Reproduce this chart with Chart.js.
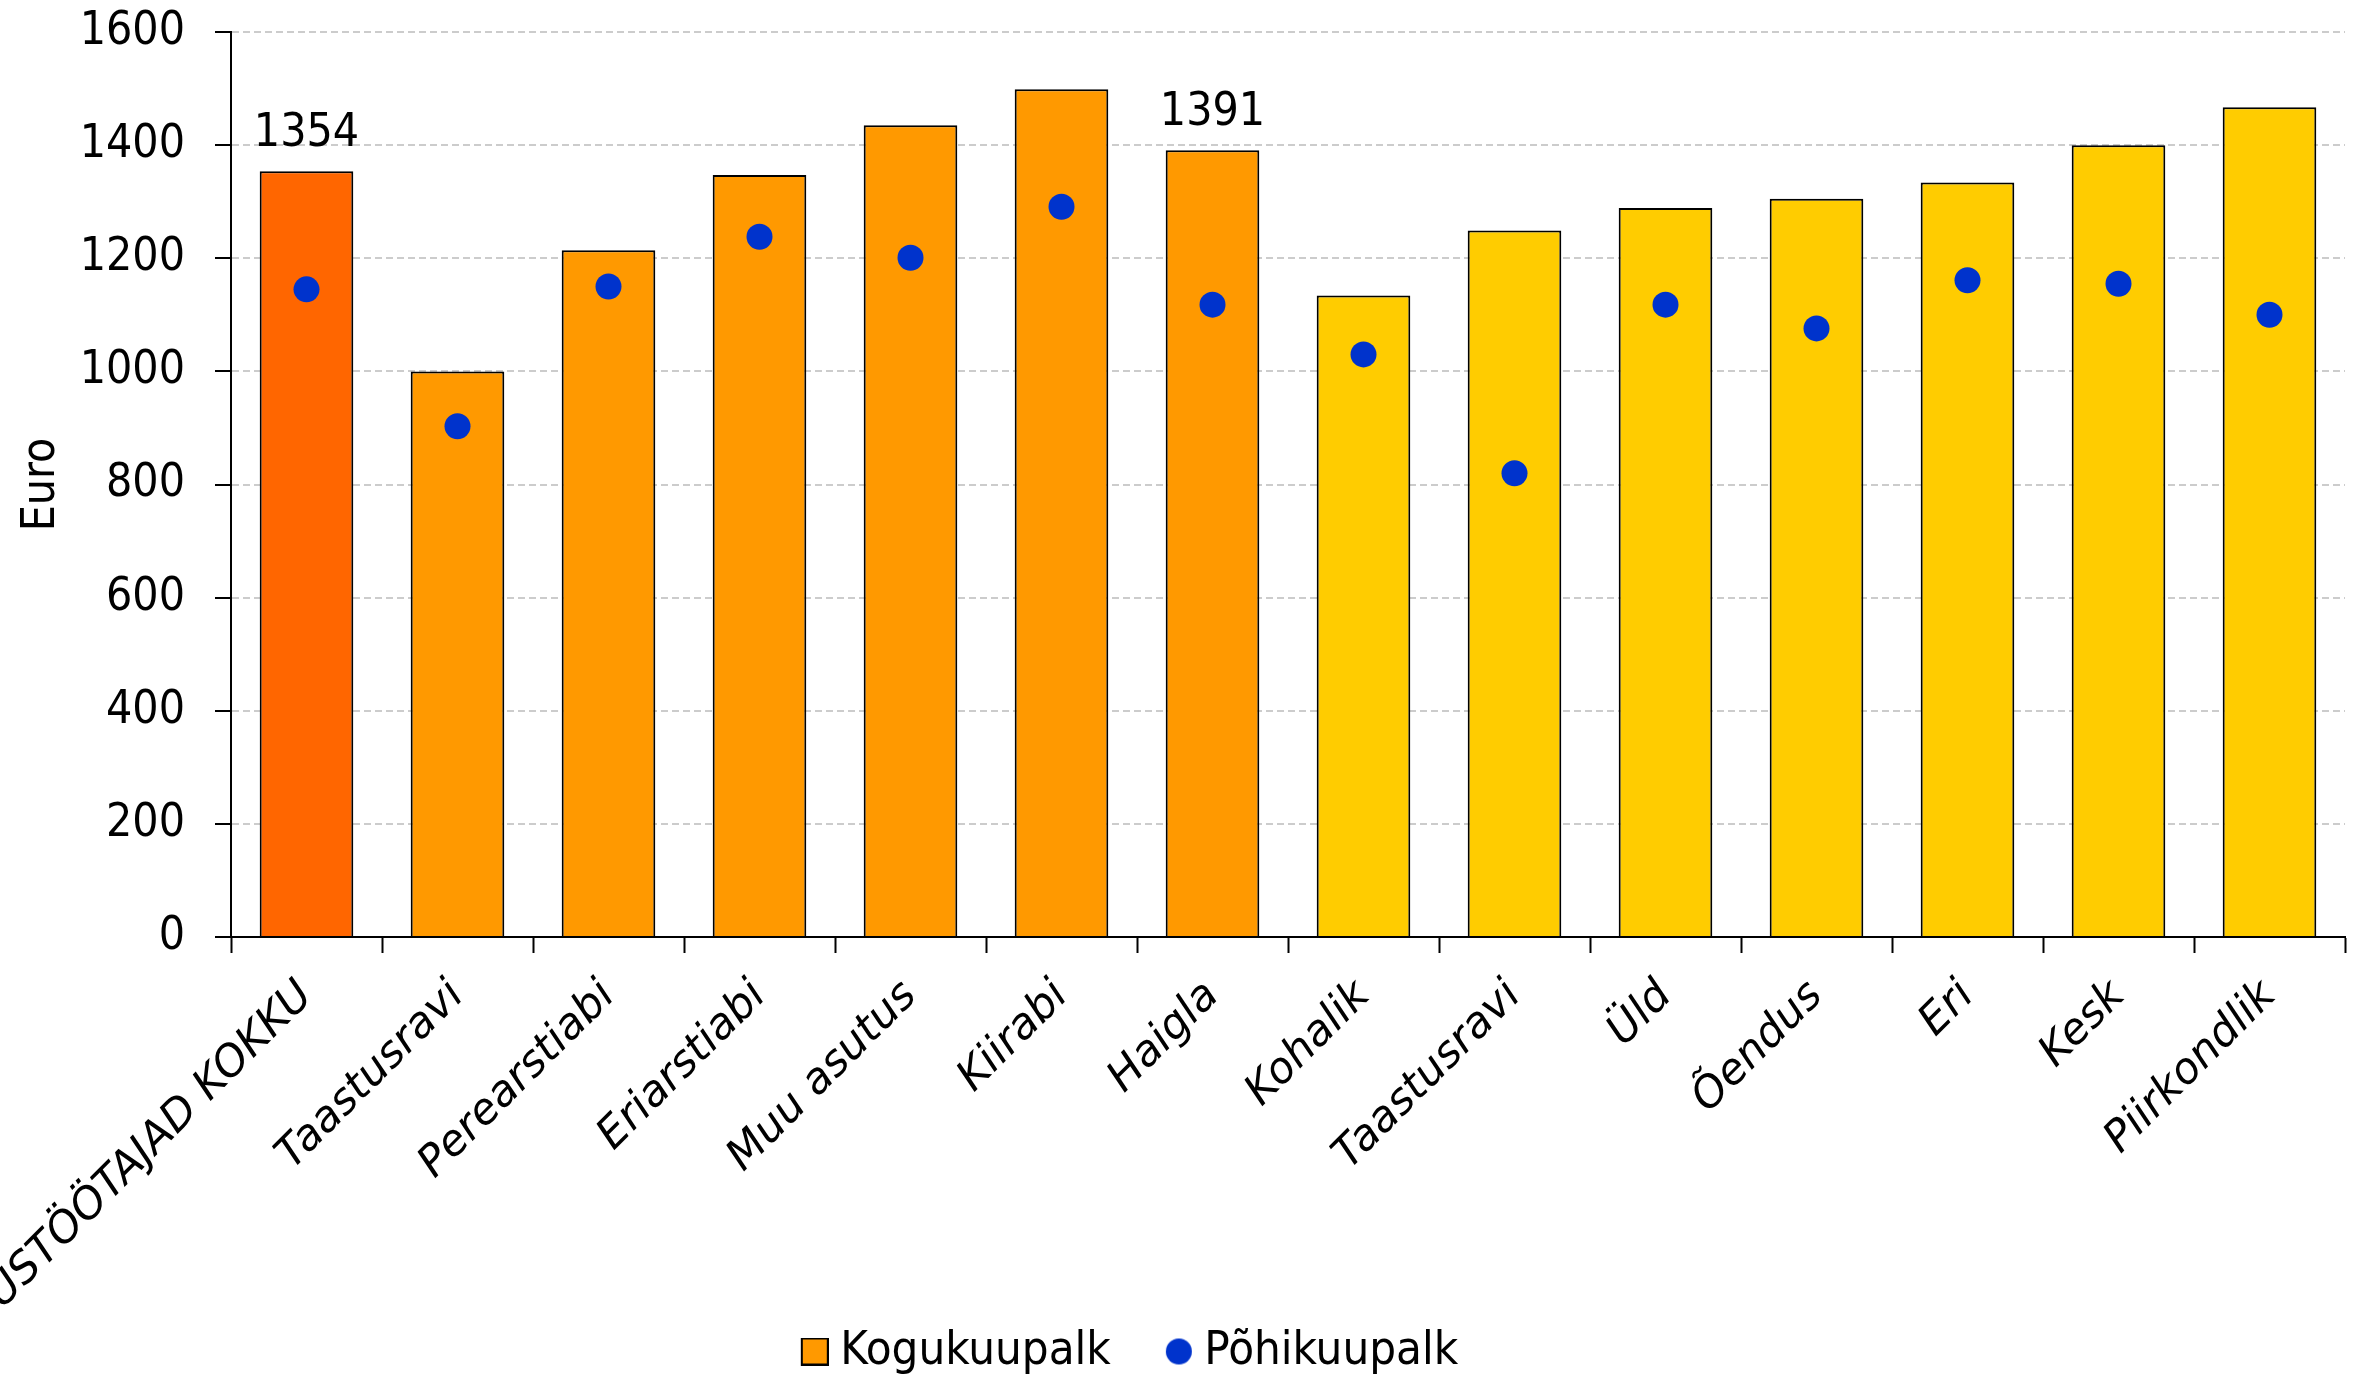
<!DOCTYPE html>
<html lang="et">
<head>
  <meta charset="UTF-8" />
  <title>Kogukuupalk ja põhikuupalk</title>
  <script src="https://cdn.jsdelivr.net/npm/chart.js"></script>
  <style>
    html, body { margin: 0; padding: 0; background: #fff; }
    #wrap { width: 2358px; height: 1380px; }
  </style>
</head>
<body>
  <div id="wrap"><canvas id="palkChart"></canvas></div>

  <script>
    // andmed
    const categories = ['HOOLDUSTÖÖTAJAD KOKKU', 'Taastusravi', 'Perearstiabi', 'Eriarstiabi', 'Muu asutus', 'Kiirabi', 'Haigla',
                        'Kohalik', 'Taastusravi', 'Üld', 'Õendus', 'Eri', 'Kesk', 'Piirkondlik'];
    const kogukuupalk = [1354, 1000, 1214, 1347, 1435, 1499, 1391, 1134, 1249, 1289, 1305, 1334, 1400, 1467];
    const pohikuupalk = [1145, 903, 1150, 1238, 1201, 1291, 1118, 1030, 820, 1118, 1076, 1161, 1155, 1100];
    const barGroup = ['kokku', 'asutus', 'asutus', 'asutus', 'asutus', 'asutus', 'asutus',
                      'haigla', 'haigla', 'haigla', 'haigla', 'haigla', 'haigla', 'haigla'];
    const labelledBars = [0, 6];
    const seriesNames = ['Kogukuupalk', 'Põhikuupalk'];

    const groupColors = { kokku: '#FF6600', asutus: '#FF9900', haigla: '#FFCC00' };
    const dotColor = '#0033CC';
    const numFont = "'DejaVu Sans Condensed', 'Liberation Sans Narrow', 'Roboto', sans-serif";
    const catFont = "'DejaVu Sans', sans-serif";

    // legendi sümbolid (läbipaistev vasak osa nihutab sümboli teksti lähedale)
    function swatch(kind) {
      const c = document.createElement('canvas');
      c.width = 84; c.height = 28;
      const g = c.getContext('2d');
      if (kind === 'rect') {
        g.fillStyle = groupColors.asutus;
        g.fillRect(57, 1, 26, 26);
        g.strokeStyle = '#000';
        g.lineWidth = 2;
        g.strokeRect(57, 1, 26, 26);
      } else {
        g.fillStyle = dotColor;
        g.beginPath();
        g.arc(70, 14, 13, 0, Math.PI * 2);
        g.fill();
      }
      return c;
    }

    const barValueLabels = {
      id: 'barValueLabels',
      afterDatasetsDraw(chart) {
        const meta = chart.getDatasetMeta(0);
        const ctx = chart.ctx;
        ctx.save();
        ctx.font = '46px ' + numFont;
        ctx.fillStyle = '#000';
        ctx.textAlign = 'center';
        ctx.textBaseline = 'bottom';
        labelledBars.forEach(i => {
          const bar = meta.data[i];
          ctx.fillText(String(kogukuupalk[i]), bar.x, bar.y - 14);
        });
        ctx.restore();
      }
    };

    // legend on originaalis veidi keskelt vasakul
    const legendShift = {
      id: 'legendShift',
      afterLayout(chart) {
        chart.legend.left -= 68;
        chart.legend.right -= 68;
        chart.legend.top += 5;
        chart.legend.bottom += 5;
      }
    };

    const ctx = document.getElementById('palkChart').getContext('2d');
    new Chart(ctx, {
      type: 'bar',
      data: {
        labels: categories,
        datasets: [{
          label: seriesNames[0],
          data: kogukuupalk,
          backgroundColor: barGroup.map(g => groupColors[g]),
          borderColor: '#000',
          borderWidth: 2,
          categoryPercentage: 0.62,
          barPercentage: 1,
          order: 1
        }, {
          type: 'line',
          label: seriesNames[1],
          data: pohikuupalk,
          showLine: false,
          pointRadius: 13,
          pointHoverRadius: 13,
          pointBackgroundColor: dotColor,
          pointBorderWidth: 0,
          borderColor: dotColor,
          order: 0
        }]
      },
      options: {
        responsive: true,
        maintainAspectRatio: false,
        devicePixelRatio: 1,
        animation: false,
        layout: { padding: { top: 32, right: 7, left: 0, bottom: 0 } },
        scales: {
          x: {
            grid: { display: true, drawOnChartArea: false, offset: true, tickLength: 16, tickColor: '#000', tickWidth: 2 },
            border: { display: true, color: '#000', width: 2 },
            ticks: {
              color: '#000',
              font: { family: catFont, size: 43, style: 'italic' },
              minRotation: 45,
              maxRotation: 45,
              autoSkip: false,
              padding: 18
            },
            afterFit(scale) { scale.paddingLeft = 0; scale.height = 376; }
          },
          y: {
            min: 0,
            max: 1600,
            ticks: { stepSize: 200, color: '#000', font: { family: numFont, size: 46 }, padding: 30, callback: v => String(v) },
            grid: { color: '#cccccc', lineWidth: 2, tickLength: 16, tickColor: '#000', tickWidth: 2, tickBorderDash: [] },
            border: { display: true, color: '#000', width: 2, dash: [7, 4] },
            title: { display: true, text: 'Euro', color: '#000', font: { family: numFont, size: 46 }, padding: { top: 14, bottom: 0 } },
            afterFit(scale) { scale.width = 231; scale.paddingTop = 0; }
          }
        },
        plugins: {
          legend: {
            position: 'bottom',
            labels: {
              color: '#000',
              font: { family: numFont, size: 47 },
              usePointStyle: true,
              pointStyleWidth: 60,
              padding: 10,
              sort: (a, b) => a.datasetIndex - b.datasetIndex,
              generateLabels(chart) {
                const items = Chart.defaults.plugins.legend.labels.generateLabels(chart);
                items.forEach(it => { it.pointStyle = swatch(it.datasetIndex === 0 ? 'rect' : 'circle'); });
                return items;
              }
            }
          },
          tooltip: { enabled: false }
        }
      },
      plugins: [barValueLabels, legendShift]
    });
  </script>
</body>
</html>
